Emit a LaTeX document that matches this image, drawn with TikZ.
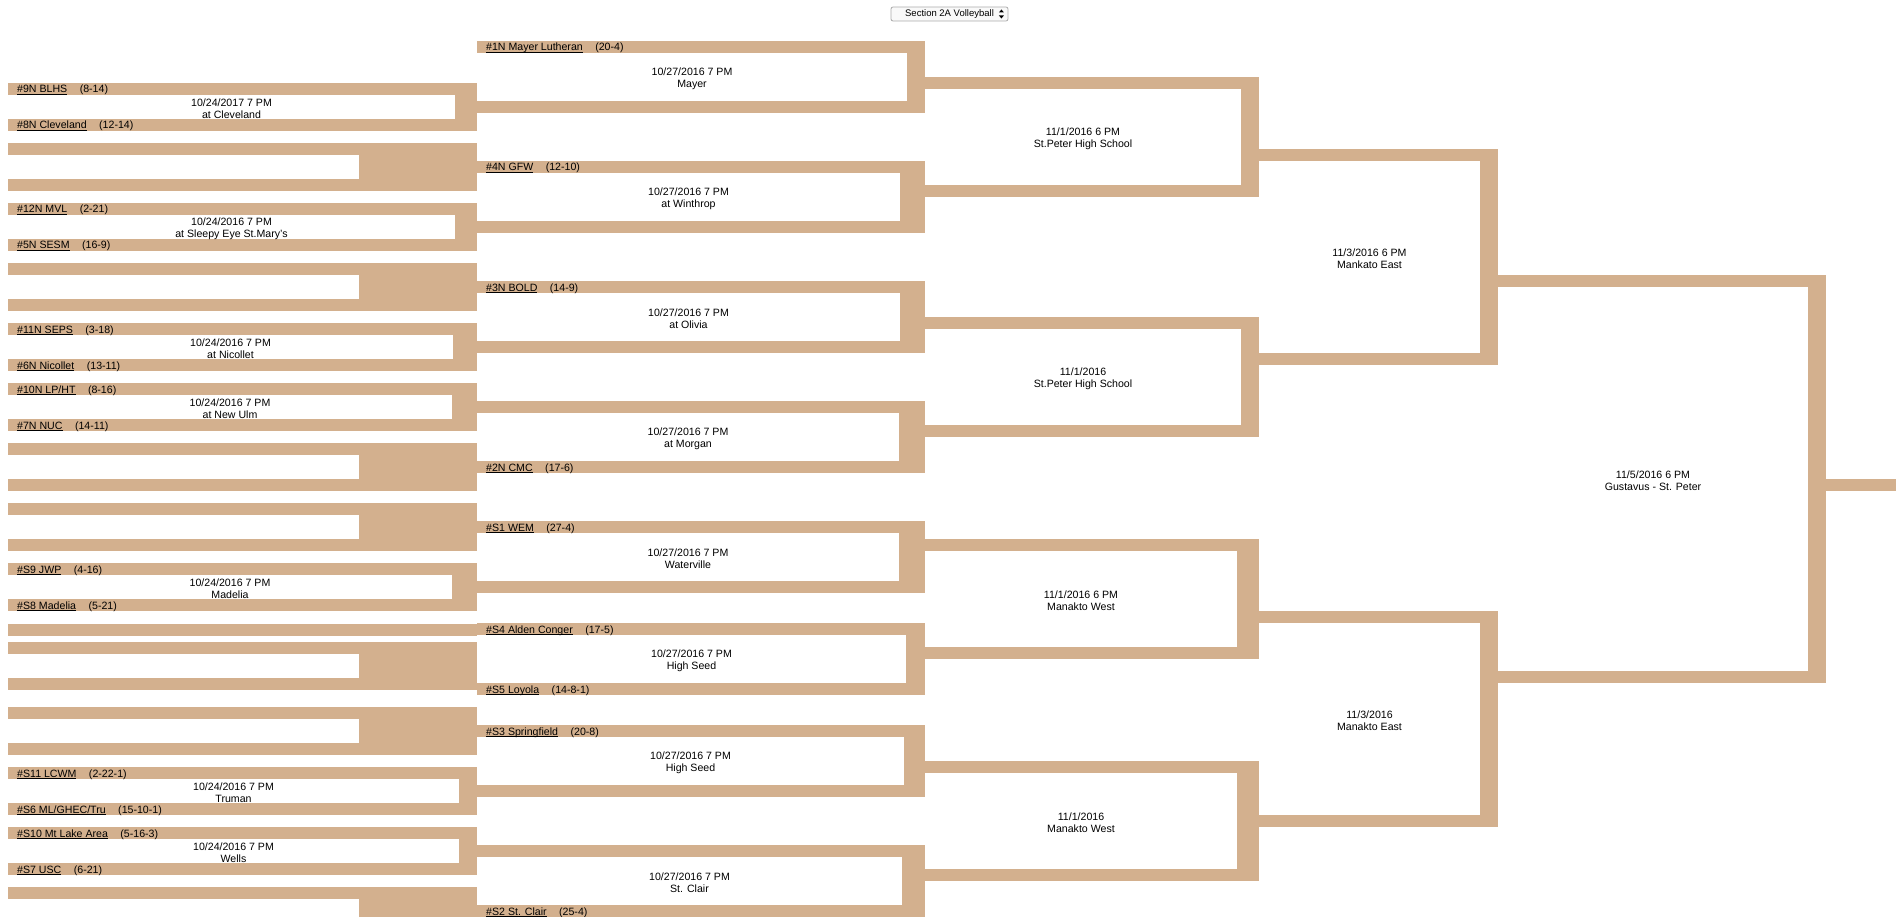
\documentclass[tikz,border=0pt]{standalone}
\usepackage{fontspec}
\setmainfont{Liberation Sans}
\usetikzlibrary{calc}

\definecolor{bronze}{RGB}{211,176,142}
% sublinhado do nome da equipe
\newcommand{\equipe}[1]{\setbox0=\hbox{#1}\rlap{\rule[-1.4pt]{\wd0}{0.75pt}}\box0}

\begin{document}
\begin{tikzpicture}[x=1pt, y=-1pt]
    % Estilos
    \tikzstyle{rotulo}=[anchor=base west, inner sep=0pt, font=\fontsize{10.6}{12}\selectfont]
    \tikzstyle{jogo}=[align=center, inner sep=0pt, font=\fontsize{10.6}{12}\selectfont]
    \tikzstyle{menu}=[draw=gray!65, fill=gray!5, rounded corners=2pt, line width=0.8pt,
                      minimum width=117pt, minimum height=14pt, inner sep=0pt,
                      font=\fontsize{9.5}{11}\selectfont]

    \clip (0,0) rectangle (1900,917);
    \fill[white] (0,0) rectangle (1900,917);

    % Menu
    \node[menu] (menu) at (949.5,14) {Section 2A Volleyball\hspace{10pt}};
    \fill ($(menu.east)+(-9.5,-1.5)$) -- ++(5,0) -- ++(-2.5,-3) -- cycle;
    \fill ($(menu.east)+(-9.5,1.5)$) -- ++(5,0) -- ++(-2.5,3) -- cycle;

    % Primeira rodada
    \foreach \t/\xi in {83/455, 203/455, 323/453, 383/452, 563/452, 767/459, 827/459} {
        \fill[bronze] (8,\t) rectangle (477,\t+48);
        \fill[white] (8,\t+12) rectangle (\xi,\t+36);
    }
    \foreach \t in {143, 263, 443, 503, 642, 707, 887} {
        \fill[bronze] (8,\t) rectangle (477,\t+48);
        \fill[white] (8,\t+12) rectangle (359,\t+36);
    }
    \fill[bronze] (8,624) rectangle (477,636);

    % Segunda rodada
    \foreach \t/\xi in {41/907, 161/900, 281/900, 401/899, 521/899, 623/906, 725/904, 845/902} {
        \fill[bronze] (477,\t) rectangle (925,\t+72);
        \fill[white] (477,\t+12) rectangle (\xi,\t+60);
    }

    % Terceira rodada
    \foreach \t/\xi in {77/1241, 317/1241, 539/1237, 761/1237} {
        \fill[bronze] (925,\t) rectangle (1259,\t+120);
        \fill[white] (925,\t+12) rectangle (\xi,\t+108);
    }

    % Semifinais e final
    \foreach \t in {149, 611} {
        \fill[bronze] (1259,\t) rectangle (1498,\t+216);
        \fill[white] (1259,\t+12) rectangle (1480,\t+204);
    }
    \fill[bronze] (1498,275) rectangle (1826,683);
    \fill[white] (1498,287) rectangle (1808,671);
    \fill[bronze] (1826,479) rectangle (1896,491);

    % Equipes
    \node[rotulo] (e9n) at (17,93) {\equipe{\#9N BLHS}\hspace{12.5pt}(8-14)};
    \node[rotulo] (e8n) at (17,129) {\equipe{\#8N Cleveland}\hspace{12.5pt}(12-14)};
    \node[rotulo] (e12n) at (17,213) {\equipe{\#12N MVL}\hspace{12.5pt}(2-21)};
    \node[rotulo] (e5n) at (17,249) {\equipe{\#5N SESM}\hspace{12.5pt}(16-9)};
    \node[rotulo] (e11n) at (17,333) {\equipe{\#11N SEPS}\hspace{12.5pt}(3-18)};
    \node[rotulo] (e6n) at (17,369) {\equipe{\#6N Nicollet}\hspace{12.5pt}(13-11)};
    \node[rotulo] (e10n) at (17,393) {\equipe{\#10N LP/HT}\hspace{12.5pt}(8-16)};
    \node[rotulo] (e7n) at (17,429) {\equipe{\#7N NUC}\hspace{12.5pt}(14-11)};
    \node[rotulo] (es9) at (17,573) {\equipe{\#S9 JWP}\hspace{12.5pt}(4-16)};
    \node[rotulo] (es8) at (17,609) {\equipe{\#S8 Madelia}\hspace{12.5pt}(5-21)};
    \node[rotulo] (es11) at (17,777) {\equipe{\#S11 LCWM}\hspace{12.5pt}(2-22-1)};
    \node[rotulo] (es6) at (17,813) {\equipe{\#S6 ML/GHEC/Tru}\hspace{12.5pt}(15-10-1)};
    \node[rotulo] (es10) at (17,837) {\equipe{\#S10 Mt Lake Area}\hspace{12.5pt}(5-16-3)};
    \node[rotulo] (es7) at (17,873) {\equipe{\#S7 USC}\hspace{12.5pt}(6-21)};

    \node[rotulo] (e1n) at (486,51) {\equipe{\#1N Mayer Lutheran}\hspace{12.5pt}(20-4)};
    \node[rotulo] (e4n) at (486,171) {\equipe{\#4N GFW}\hspace{12.5pt}(12-10)};
    \node[rotulo] (e3n) at (486,291) {\equipe{\#3N BOLD}\hspace{12.5pt}(14-9)};
    \node[rotulo] (e2n) at (486,471) {\equipe{\#2N CMC}\hspace{12.5pt}(17-6)};
    \node[rotulo] (es1) at (486,531) {\equipe{\#S1 WEM}\hspace{12.5pt}(27-4)};
    \node[rotulo] (es4) at (486,633) {\equipe{\#S4 Alden Conger}\hspace{12.5pt}(17-5)};
    \node[rotulo] (es5) at (486,693) {\equipe{\#S5 Loyola}\hspace{12.5pt}(14-8-1)};
    \node[rotulo] (es3) at (486,735) {\equipe{\#S3 Springfield}\hspace{12.5pt}(20-8)};
    \node[rotulo] (es2) at (486,915) {\equipe{\#S2 St. Clair}\hspace{12.5pt}(25-4)};

    % Jogos
    \node[jogo] (j1) at (231.5,108.6) {10/24/2017 7 PM\\at Cleveland};
    \node[jogo] (j2) at (231.5,228.6) {10/24/2016 7 PM\\at Sleepy Eye St.Mary's};
    \node[jogo] (j3) at (230.5,348.6) {10/24/2016 7 PM\\at Nicollet};
    \node[jogo] (j4) at (230,408.6) {10/24/2016 7 PM\\at New Ulm};
    \node[jogo] (j5) at (230,588.6) {10/24/2016 7 PM\\Madelia};
    \node[jogo] (j6) at (233.5,792.6) {10/24/2016 7 PM\\Truman};
    \node[jogo] (j7) at (233.5,852.6) {10/24/2016 7 PM\\Wells};

    \node[jogo] (q1) at (692,78.6) {10/27/2016 7 PM\\Mayer};
    \node[jogo] (q2) at (688.5,198.6) {10/27/2016 7 PM\\at Winthrop};
    \node[jogo] (q3) at (688.5,318.6) {10/27/2016 7 PM\\at Olivia};
    \node[jogo] (q4) at (688,438.6) {10/27/2016 7 PM\\at Morgan};
    \node[jogo] (q5) at (688,558.6) {10/27/2016 7 PM\\Waterville};
    \node[jogo] (q6) at (691.5,660.6) {10/27/2016 7 PM\\High Seed};
    \node[jogo] (q7) at (690.5,762.6) {10/27/2016 7 PM\\High Seed};
    \node[jogo] (q8) at (689.5,882.6) {10/27/2016 7 PM\\St. Clair};

    \node[jogo] (o1) at (1083,138.6) {11/1/2016 6 PM\\St.Peter High School};
    \node[jogo] (o2) at (1083,378.6) {11/1/2016\\St.Peter High School};
    \node[jogo] (o3) at (1081,600.6) {11/1/2016 6 PM\\Manakto West};
    \node[jogo] (o4) at (1081,822.6) {11/1/2016\\Manakto West};

    \node[jogo] (s1) at (1369.5,258.6) {11/3/2016 6 PM\\Mankato East};
    \node[jogo] (s2) at (1369.5,720.6) {11/3/2016\\Manakto East};

    \node[jogo] (f) at (1653,480.6) {11/5/2016 6 PM\\Gustavus - St. Peter};
\end{tikzpicture}
\end{document}
